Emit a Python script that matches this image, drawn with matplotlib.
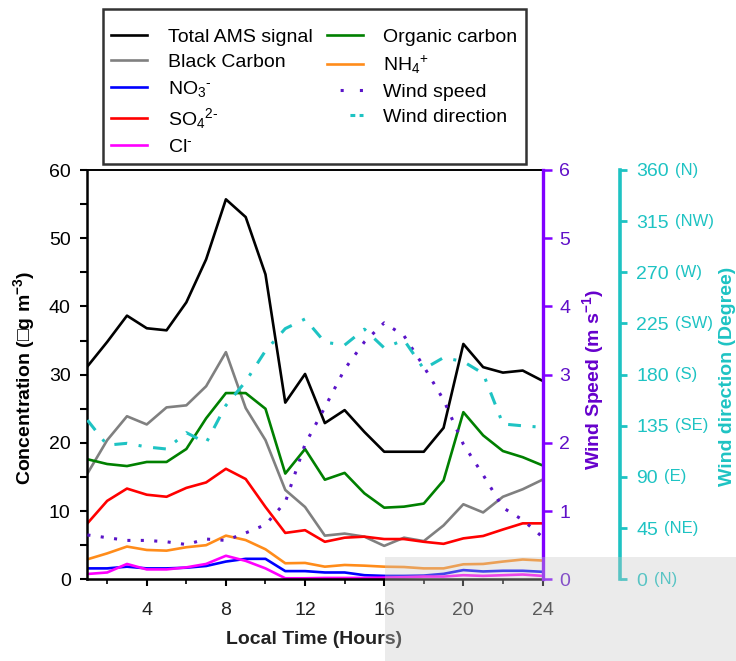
import numpy as np
import matplotlib
matplotlib.use('Agg')
import matplotlib.pyplot as plt
import matplotlib.transforms as mtransforms
from matplotlib.lines import Line2D
from matplotlib.patches import Rectangle
from matplotlib.ticker import MultipleLocator

plt.rcParams['font.family'] = ['Liberation Sans', 'DejaVu Sans']
plt.rcParams['mathtext.fontset'] = 'custom'
plt.rcParams['mathtext.rm'] = 'Liberation Sans'
plt.rcParams['mathtext.it'] = 'Liberation Sans:italic'
plt.rcParams['mathtext.bf'] = 'Liberation Sans:bold'

# data (hourly means)
hours = np.arange(1, 25)
total_ams = [31.2, 34.8, 38.65, 36.8, 36.5, 40.6, 46.9, 55.7, 53.1, 44.7, 25.9, 30.1,
             22.9, 24.8, 21.6, 18.7, 18.7, 18.7, 22.2, 34.5, 31.1, 30.3, 30.6, 29.1]
black_carbon = [15.5, 20.4, 23.9, 22.7, 25.2, 25.5, 28.3, 33.3, 25.1, 20.4, 13.1, 10.6,
                6.4, 6.7, 6.25, 4.9, 6.1, 5.6, 7.9, 11.0, 9.8, 12.1, 13.2, 14.6]
no3 = [1.6, 1.6, 1.85, 1.6, 1.6, 1.7, 1.95, 2.6, 3.0, 3.0, 1.2, 1.2,
       1.0, 1.0, 0.6, 0.5, 0.5, 0.55, 0.8, 1.35, 1.15, 1.25, 1.25, 1.1]
so4 = [8.2, 11.5, 13.3, 12.4, 12.1, 13.4, 14.2, 16.2, 14.7, 10.6, 6.8, 7.2,
       5.5, 6.1, 6.25, 5.9, 5.9, 5.5, 5.2, 6.0, 6.35, 7.3, 8.2, 8.2]
cl = [0.78, 1.0, 2.25, 1.45, 1.45, 1.75, 2.25, 3.45, 2.7, 1.6, 0.15, 0.15,
      0.2, 0.2, 0.2, 0.25, 0.3, 0.4, 0.4, 0.6, 0.5, 0.6, 0.7, 0.5]
organic = [17.6, 16.9, 16.6, 17.2, 17.2, 19.1, 23.6, 27.3, 27.3, 25.0, 15.5, 19.1,
           14.6, 15.6, 12.6, 10.5, 10.65, 11.1, 14.5, 24.5, 21.1, 18.8, 17.9, 16.7]
nh4 = [2.93, 3.8, 4.8, 4.3, 4.2, 4.7, 5.0, 6.4, 5.75, 4.4, 2.35, 2.4,
       1.85, 2.1, 2.0, 1.85, 1.8, 1.6, 1.6, 2.2, 2.25, 2.6, 2.9, 2.75]
wind_speed = [0.65, 0.61, 0.57, 0.57, 0.55, 0.51, 0.59, 0.57, 0.68, 0.80, 1.13, 1.98,
              2.52, 3.08, 3.48, 3.76, 3.57, 3.12, 2.63, 1.98, 1.53, 1.05, 0.87, 0.62]
wind_dir = [140, 118, 119.6, 116.4, 114.6, 129, 120, 153, 174, 201, 220.5, 229,
            208.5, 206, 220, 203.5, 210.5, 185, 195, 191.5, 181, 136.6, 135, 133.7]

dir_ticks = [0, 45, 90, 135, 180, 225, 270, 315, 360]
dir_names = ['(N)', '(NE)', '(E)', '(SE)', '(S)', '(SW)', '(W)', '(NW)', '(N)']

purple = '#8000FF'
purple_txt = '#6010C8'
cyan = '#1EC3C3'

fig = plt.figure(figsize=(7.36, 6.61), dpi=100)
ax = fig.add_axes([87.4 / 736, 81.7 / 661, 455.1 / 736, 409.3 / 661])

lw = 1.9
l_tot, = ax.plot(hours, total_ams, color='black', lw=lw)
l_bc, = ax.plot(hours, black_carbon, color='#808080', lw=lw)
l_oc, = ax.plot(hours, organic, color='#008000', lw=lw)
l_so4, = ax.plot(hours, so4, color='#FF0000', lw=lw)
l_nh4, = ax.plot(hours, nh4, color='#FF8C1A', lw=lw)
l_no3, = ax.plot(hours, no3, color='#0000FF', lw=lw)
l_cl, = ax.plot(hours, cl, color='#FF00FF', lw=lw)

ax.set_xlim(1, 24)
ax.set_ylim(0, 60)
ax.xaxis.set_major_locator(MultipleLocator(4))
ax.xaxis.set_minor_locator(MultipleLocator(2))
ax.yaxis.set_major_locator(MultipleLocator(10))
ax.yaxis.set_minor_locator(MultipleLocator(5))
ax.tick_params(axis='y', which='both', direction='out', length=5, width=1.5,
               right=True, labelsize=14, pad=7)
ax.tick_params(axis='x', which='major', direction='out', length=5, width=1.5,
               labelsize=14, pad=11)
ax.tick_params(axis='x', which='minor', direction='out', length=3.5, width=1.2)
ax.tick_params(axis='x', which='both', colors='black', labelcolor='#222222')
for s in ['left', 'bottom']:
    ax.spines[s].set_linewidth(1.8)
ax.spines['top'].set_linewidth(1.4)
ax.spines['right'].set_visible(False)

# wind speed axis
ax2 = ax.twinx()
ax2.plot(hours, wind_speed, color='#5A14C8', lw=2.2,
         linestyle=(0, (1, 3.4)), dash_capstyle='butt')
ax2.set_ylim(0, 6)
ax2.yaxis.set_major_locator(MultipleLocator(1))
ax2.spines['right'].set_color(purple)
ax2.spines['right'].set_linewidth(2.4)
for s in ['left', 'top', 'bottom']:
    ax2.spines[s].set_visible(False)
ax2.tick_params(axis='y', direction='out', length=6.5, width=1.8, color=purple,
                labelcolor=purple_txt, labelsize=14, pad=5.5)

# wind direction axis
ax3 = ax.twinx()
ax3.plot(hours, wind_dir, color=cyan, lw=2.2,
         linestyle=(0, (4.2, 3.8, 1, 3.8)), dash_capstyle='butt')
ax3.set_ylim(0, 360)
ax3.set_yticks(dir_ticks)
ax3.spines['right'].set_position(('axes', 1.171))
ax3.spines['right'].set_color(cyan)
ax3.spines['right'].set_linewidth(2.6)
for s in ['left', 'top', 'bottom']:
    ax3.spines[s].set_visible(False)
ax3.tick_params(axis='y', direction='out', length=5, width=2, color=cyan,
                labelcolor=cyan, labelsize=14, pad=6.5)

blend = mtransforms.blended_transform_factory(ax3.transAxes, ax3.transData)
for val, name in zip(dir_ticks, dir_names):
    off = 16 + len(str(val)) * 10.8 + 6.5
    tr = mtransforms.offset_copy(blend, fig=fig, x=off, y=0, units='dots')
    ax3.text(1.171, val, name, transform=tr, fontsize=12, color=cyan,
             ha='left', va='center', clip_on=False)

# axis labels
fig.text(24 / 736, 1 - 378 / 661, 'Concentration (\u25a1g m$^{\\mathbf{-3}}$)',
         rotation=90, ha='center', va='center', fontsize=14, fontweight='bold')
fig.text(593 / 736, 1 - 380 / 661, 'Wind Speed (m s$^{\\mathbf{-1}}$)',
         rotation=90, ha='center', va='center', fontsize=14, fontweight='bold',
         color='#6600CC')
fig.text(728 / 736, 1 - 376 / 661, 'Wind direction (Degree)',
         rotation=90, ha='center', va='center', fontsize=14, fontweight='bold',
         color=cyan)
fig.text(314 / 736, 1 - 640 / 661, 'Local Time (Hours)', ha='center', va='center',
         fontsize=14, fontweight='bold', color='#222222')

# legend (wind handles only show a couple of marks, like the source)
h_ws = Line2D([], [], color='#5A14C8', lw=2.2, linestyle=(2.0, (1, 5.3)),
              dash_capstyle='butt')
h_wd = Line2D([], [], color=cyan, lw=2.2, linestyle=(9.1, (1.6, 1.4, 1.6, 12)),
              dash_capstyle='butt')
handles = [l_tot, l_bc, l_no3, l_so4, l_cl, l_oc, l_nh4, h_ws, h_wd]
labels = ['Total AMS signal', 'Black Carbon', 'NO$_3$$^{\\text{-}}$', 'SO$_4$$^{\\text{2-}}$',
          'Cl$^{\\text{-}}$', 'Organic carbon', 'NH$_4$$^{+}$', 'Wind speed', 'Wind direction']
leg = fig.legend(handles, labels, loc='upper left', bbox_to_anchor=(103 / 736, 1 - 9 / 661),
                 ncol=2, fontsize=14, frameon=True, fancybox=False, borderaxespad=0,
                 handlelength=1.85, handletextpad=1.05, columnspacing=0.75,
                 labelspacing=0.38, borderpad=0.42, title=' ', title_fontsize=2.5)
leg.get_frame().set_edgecolor('black')
leg.get_frame().set_linewidth(1.8)

# light grey overlay seen in the lower right corner of the source image
fig.patches.append(Rectangle((385 / 736, 0), 1 - 385 / 736, 104 / 661,
                             transform=fig.transFigure, facecolor='#c8c8c8',
                             alpha=0.35, edgecolor='none', zorder=20))

fig.savefig('out.png', dpi=100)
